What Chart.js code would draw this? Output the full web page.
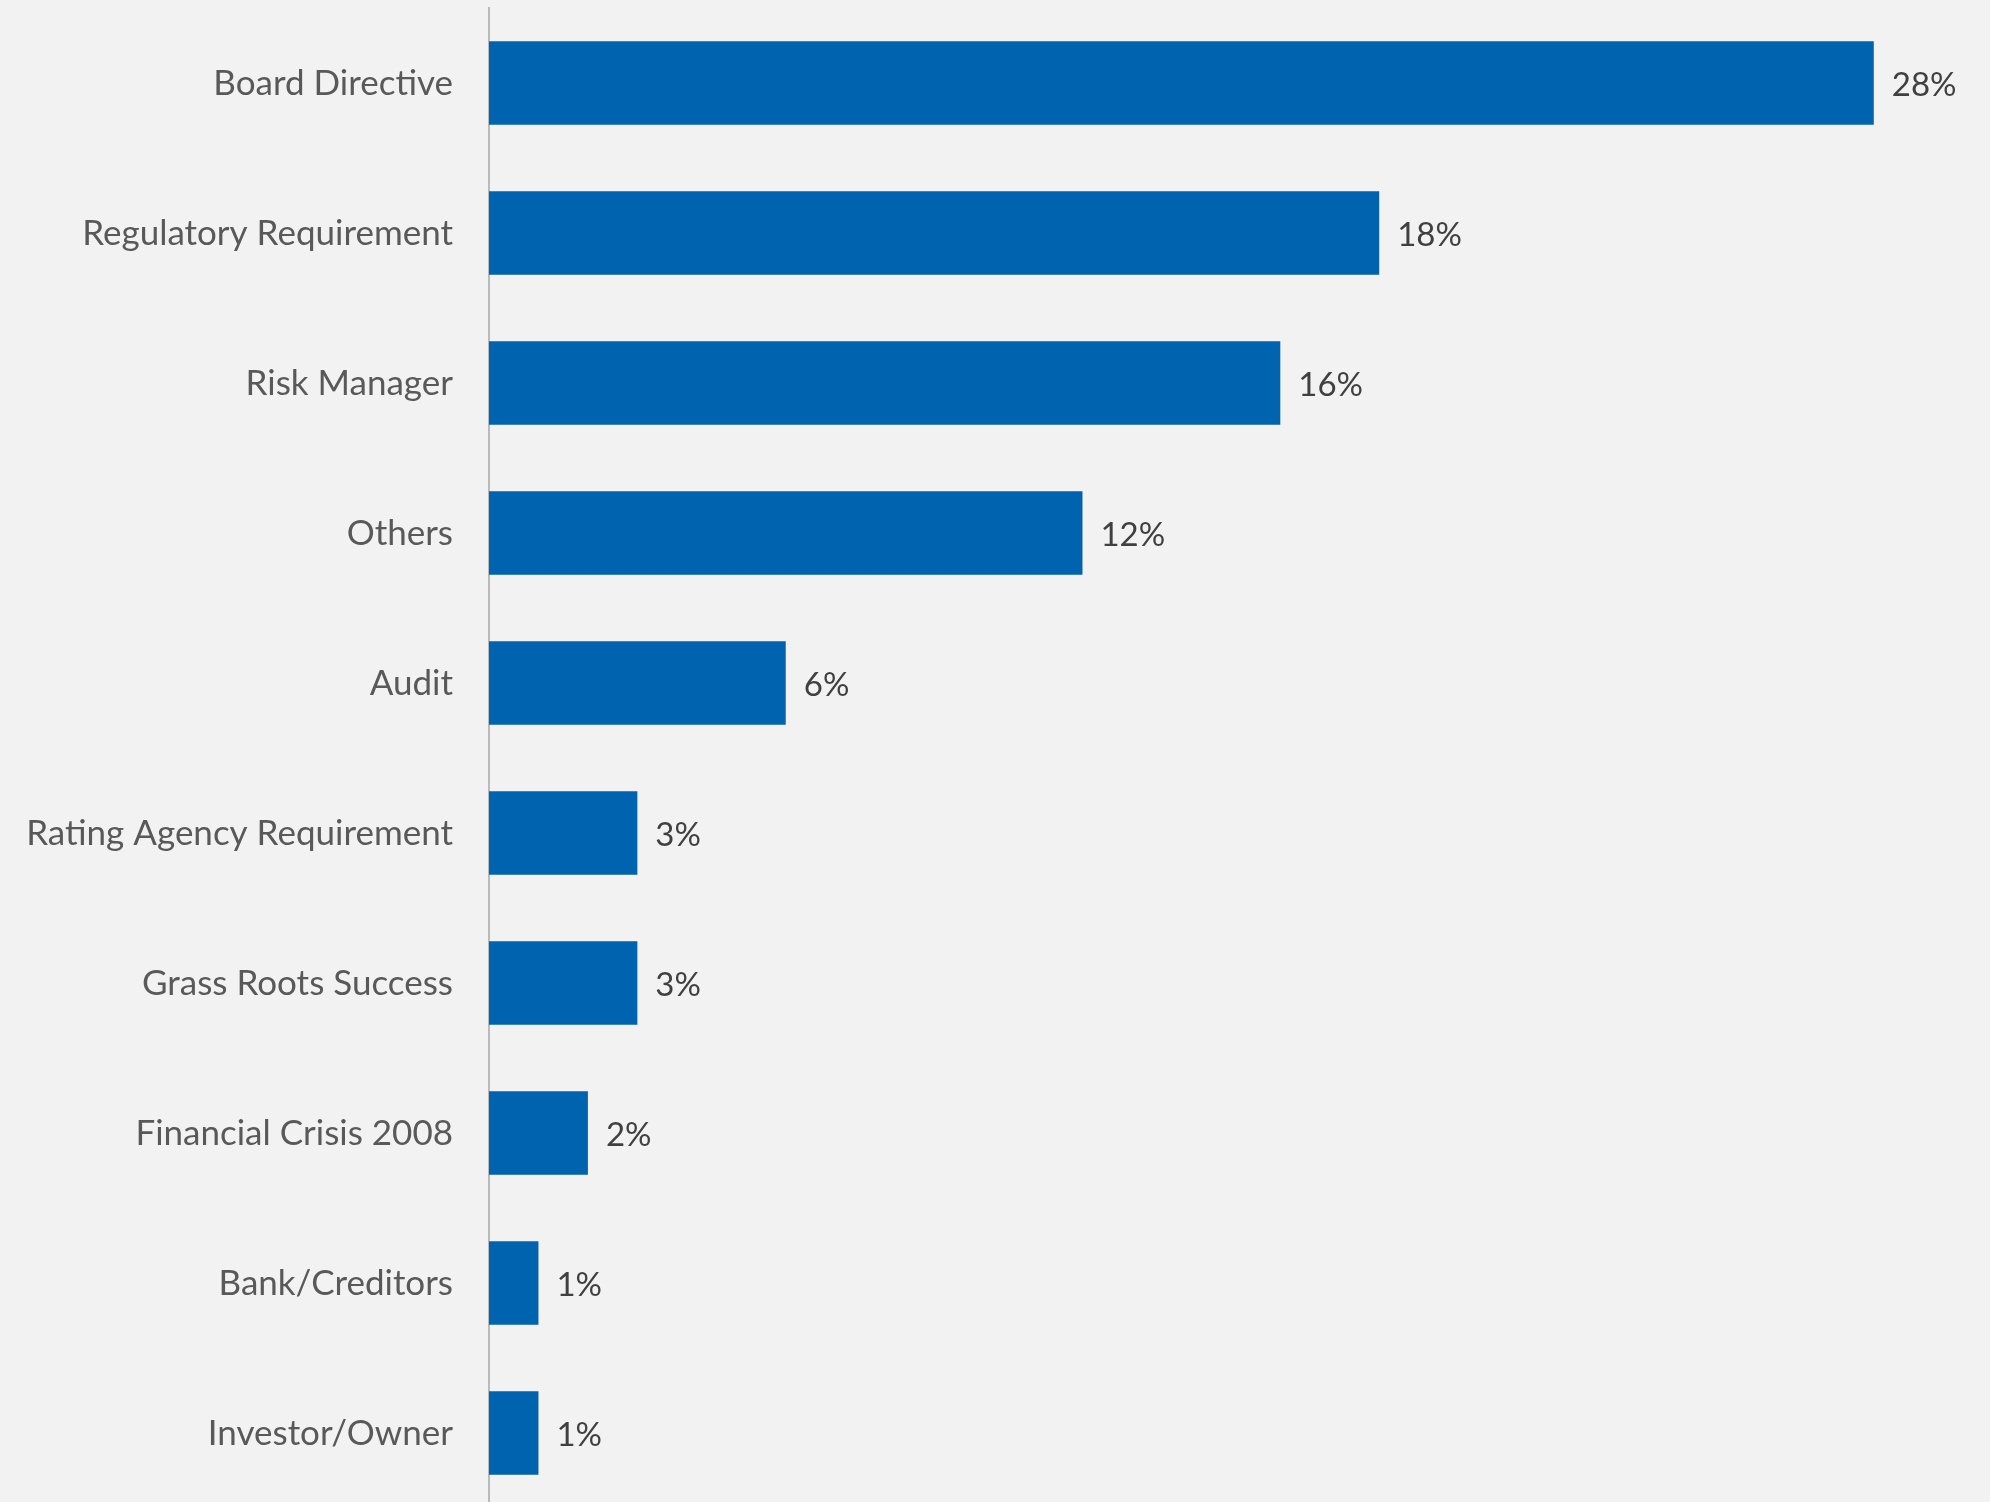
<!DOCTYPE html>
<html>
<head>
<meta charset="utf-8">
<script src="https://cdn.jsdelivr.net/npm/chart.js@4/dist/chart.umd.min.js"></script>
<style>
  html, body { margin: 0; padding: 0; background: #f2f2f2; overflow: hidden; }
  canvas { display: block; }
</style>
</head>
<body>
<!-- a few px taller than the window: the last band runs past the bottom edge -->
<canvas id="driverChart" width="1990" height="1508"></canvas>
<script>
const categories = [
  'Board Directive',
  'Regulatory Requirement',
  'Risk Manager',
  'Others',
  'Audit',
  'Rating Agency Requirement',
  'Grass Roots Success',
  'Financial Crisis 2008',
  'Bank/Creditors',
  'Investor/Owner'
];
const shares = [28, 18, 16, 12, 6, 3, 3, 2, 1, 1];

const FONT = 'Lato, "Open Sans", sans-serif';

// writes the percentage just past the end of each bar
const valueLabels = {
  id: 'valueLabels',
  afterDatasetsDraw(chart) {
    const ctx = chart.ctx;
    const meta = chart.getDatasetMeta(0);
    ctx.save();
    ctx.font = '33px ' + FONT;
    ctx.fillStyle = '#404040';
    ctx.textAlign = 'left';
    ctx.textBaseline = 'middle';
    meta.data.forEach((bar, i) => {
      ctx.fillText(shares[i] + '%', bar.x + 18, bar.y + 2);
    });
    ctx.restore();
  }
};

const ctx = document.getElementById('driverChart').getContext('2d');
new Chart(ctx, {
  type: 'bar',
  data: {
    labels: categories,
    datasets: [{
      data: shares,
      backgroundColor: '#0063af',
      borderWidth: 0,
      categoryPercentage: 1,
      barPercentage: 0.558
    }]
  },
  options: {
    indexAxis: 'y',
    responsive: false,
    animation: false,
    layout: { padding: { top: 8, right: 0, bottom: 0, left: 0 } },
    plugins: {
      legend: { display: false },
      tooltip: { enabled: false }
    },
    scales: {
      x: {
        display: false,
        min: 0,
        max: 30.35
      },
      y: {
        afterFit(scale) {
          // fixed gutter for the labels, no extra room above/below the bars
          scale.width = 489;
          scale.paddingTop = 0;
          scale.paddingBottom = 0;
        },
        grid: { display: false, drawTicks: false },
        border: { display: true, color: '#bababa', width: 2 },
        ticks: {
          color: '#595959',
          padding: 36,
          labelOffset: 1,
          font: { family: FONT, size: 35 }
        }
      }
    }
  },
  plugins: [valueLabels]
});
</script>
</body>
</html>
